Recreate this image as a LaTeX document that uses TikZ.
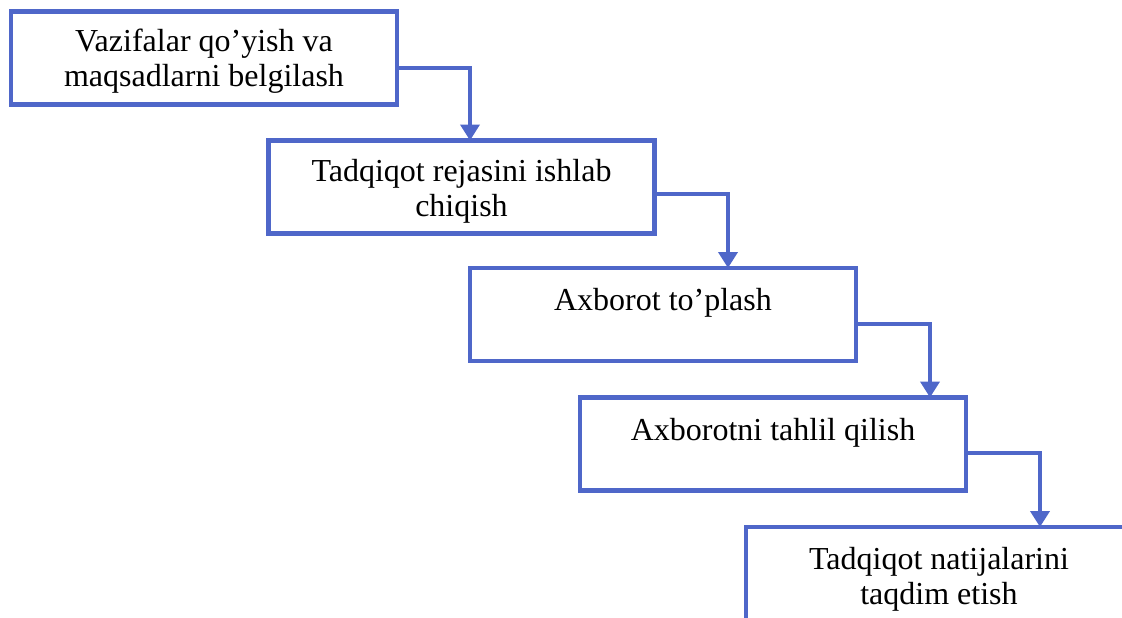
\documentclass[tikz,border=0pt]{standalone}
\usepackage{fontspec}
\setmainfont{Liberation Serif}
\usetikzlibrary{arrows.meta,calc}
\definecolor{boxblue}{RGB}{79,103,201}
\tikzset{
  stepbox/.style={draw=boxblue, line width=4.5pt, rectangle, minimum width=386pt, minimum height=93pt, inner sep=0pt, outer sep=0pt, fill=white},
  steptext/.style={anchor=base, align=center, inner sep=0pt, font=\fontsize{32}{35}\selectfont},
  flow/.style={draw=boxblue, line width=3.8pt, -{Triangle[length=16pt,width=19pt]}}
}
\begin{document}
\begin{tikzpicture}[x=1pt,y=-1pt]
\useasboundingbox (0,0) rectangle (1122,618);
\clip (0,0) rectangle (1122,618);
\node[stepbox] (b1) at (204,58) {};
\node[stepbox] (b2) at (461.5,187) {};
\node[stepbox] (b3) at (663,314.5) {};
\node[stepbox] (b4) at (773,444) {};
\node[stepbox] (b5) at (939,573.5) {};
\node[steptext] (t1) at ($(b1.north)+(0,75)$) {Vazifalar qo’yish va\\maqsadlarni belgilash};
\node[steptext] (t2) at ($(b2.north)+(0,76)$) {Tadqiqot rejasini ishlab\\chiqish};
\node[steptext] (t3) at ($(b3.north)+(0,42)$) {Axborot to’plash};
\node[steptext] (t4) at ($(b4.north)+(0,43)$) {Axborotni tahlil qilish};
\node[steptext] (t5) at ($(b5.north)+(0,77)$) {Tadqiqot natijalarini\\taqdim etish};
\coordinate (c1) at (470,68);
\coordinate (c2) at (728,194);
\coordinate (c3) at (930,324);
\coordinate (c4) at (1040,453);
\draw[flow] (b1.east |- c1) -- (c1) -- (c1 |- b2.north);
\draw[flow] (b2.east |- c2) -- (c2) -- (c2 |- b3.north);
\draw[flow] (b3.east |- c3) -- (c3) -- (c3 |- b4.north);
\draw[flow] (b4.east |- c4) -- (c4) -- (c4 |- b5.north);
\end{tikzpicture}
\end{document}
